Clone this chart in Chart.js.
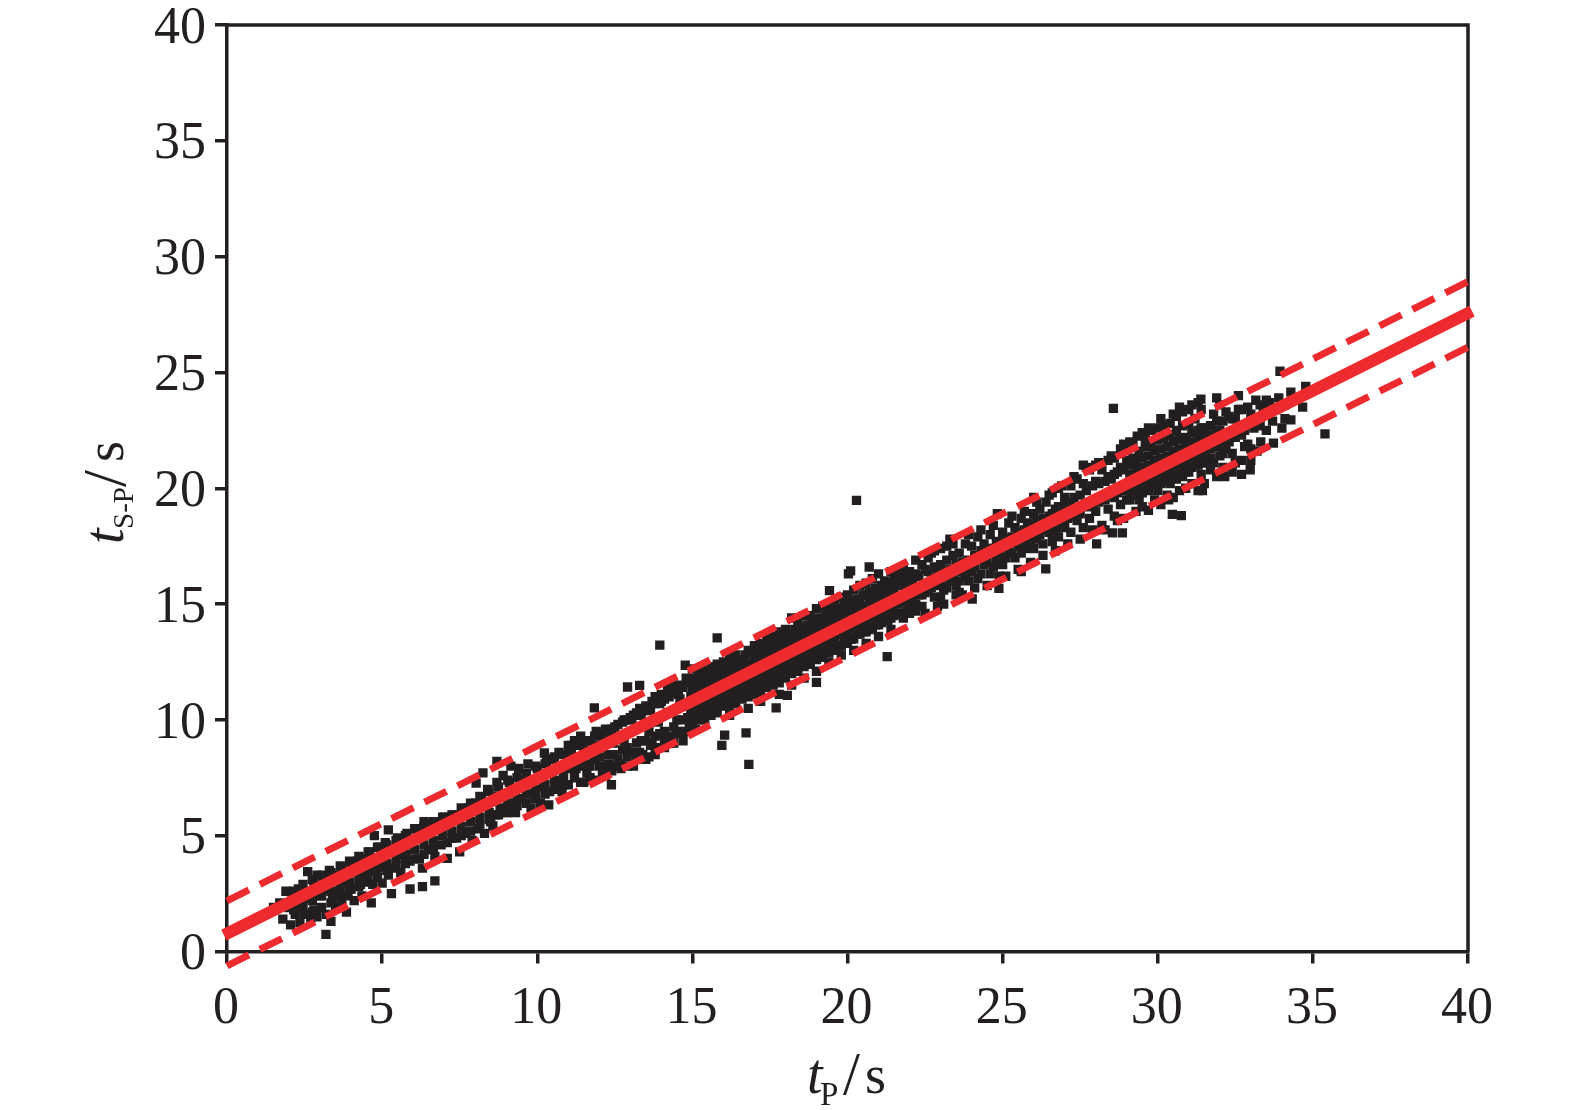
<!DOCTYPE html>
<html>
<head>
<meta charset="utf-8">
<script src="https://cdn.jsdelivr.net/npm/chart.js@4"></script>
<style>
html, body { margin: 0; padding: 0; background: #fff; }
canvas { display: block; }
</style>
</head>
<body>
<canvas id="chart" width="1575" height="1110"></canvas>
<script>
// tick labels
const tickValues = [0, 5, 10, 15, 20, 25, 30, 35, 40];

// fitted line and its two bounds, read at the plot edges
const fitX = [-0.1, 40.13];
const fitY = [0.71, 27.65];
const upperX = [0, 40];
const upperY = [2.19, 28.92];
const lowerX = [0, 40];
const lowerY = [-0.62, 26.09];

// [tP, tS-P] picks
const lowPoints = [
  [1.5,1.9],[1.7,2.1],[1.8,1.4],[1.9,2.6],[2.0,1.9],[2.05,1.15],[2.1,2.5],[2.2,1.6],[2.3,2.7],[2.35,1.25],
  [2.4,2.0],[2.5,1.6],[2.6,3.45],[2.6,2.3],[2.7,1.4],[2.8,2.9],[2.8,1.8],[2.9,3.3],[2.9,1.5],[3.0,2.4],
  [3.05,1.9],[3.1,3.2],[3.19,0.74],[3.2,1.6],[3.2,2.7],[3.35,1.3],[3.3,3.5],[3.4,2.2],[3.5,1.9],[3.5,3.3],[3.6,2.6],
  [3.7,3.6],[3.7,2.1],[3.85,1.7],[3.8,3.0],[3.9,2.4],[4.0,3.7],[4.0,2.7],[4.1,2.2],[4.2,3.9],[4.3,2.9],
  [4.35,2.4],[4.4,4.0],[4.5,3.3],[4.6,4.3],[4.65,2.1],[4.7,2.9],[4.75,5.0],[4.8,3.5],[4.9,4.5],[5.0,2.95],
  [5.0,3.7],[5.1,4.7],[5.2,5.25],[5.2,3.3],[5.3,2.5],[5.3,4.4],[5.4,3.6],[5.5,4.9],[5.6,3.4],[5.7,4.2],
  [5.8,5.1],[5.9,2.7],[5.9,3.9],[6.0,4.6],[6.1,5.3],[6.2,4.0],[6.3,2.8],[6.3,3.6],[6.35,5.6],[6.5,4.4],
  [6.6,5.5],[6.7,3.05],[6.7,4.1],[6.8,5.6],[6.9,4.6],[7.0,5.8],[7.1,4.02],[7.1,4.7],[7.2,5.4],[7.3,5.9],
  [7.4,4.9],[7.5,4.3],[7.6,5.9],[7.7,5.1],[7.8,6.2],[7.9,4.8],[8.0,6.4],[8.03,7.27],[8.1,5.3],[8.2,6.6],
  [8.25,7.71],[8.3,5.1],[8.4,7.0],[8.5,5.6],[8.57,5.42],[8.65,5.9],[8.7,8.21],[8.7,7.3],[8.8,6.2],[8.9,7.6],
  [9.0,6.0],[9.1,7.3],[9.15,8.0],[9.2,6.4],[9.3,6.0],[9.4,7.9],[9.5,6.6],[9.6,7.4],[9.7,8.1],[9.8,6.2],
  [9.9,6.8],[10.0,7.9],[10.1,6.4],[10.23,8.57],[10.2,7.1],[10.3,8.2],[10.37,6.33],[10.4,6.9],[10.5,8.3],[10.6,7.3],
  [10.7,8.6],[10.8,6.9],[10.9,8.0],[11.0,8.9]
];

const lowCorePoints = [
  [2.15,2.6],[2.15,1.8],[2.45,2.9],[2.45,1.9],[2.75,3.1],[2.75,2.2],[2.75,1.7],[3.05,3.3],[3.05,2.4],[3.35,3.4],
  [3.35,2.6],[3.35,2.1],[3.65,3.7],[3.65,2.8],[3.65,2.4],[3.95,3.9],[3.95,3.0],[3.95,2.7],[4.25,4.1],[4.25,3.2],
  [4.25,2.8],[4.55,4.3],[4.55,3.4],[4.55,3.0],[4.85,4.5],[4.85,3.6],[4.85,3.2],[5.15,4.6],[5.15,3.8],[5.15,3.5],
  [5.45,4.8],[5.45,4.0],[5.45,3.7],[5.75,5.0],[5.75,4.2],[5.75,3.8],[6.05,5.3],[6.05,4.4],[6.05,4.0],[6.35,5.4],
  [6.35,4.6],[6.35,4.2],[6.65,5.6],[6.65,4.8],[6.65,4.4],[6.95,5.8],[6.95,5.0],[7.25,5.9],[7.25,5.2],[7.25,4.9],
  [7.55,6.2],[7.55,5.4],[7.55,5.0],[7.85,6.4],[7.85,5.6],[7.85,5.2],[8.15,6.7],[8.15,5.8],[8.15,5.5],[8.45,6.9],
  [8.45,6.0],[8.45,5.7],[8.75,7.1],[8.75,6.7],[8.75,5.9],[9.05,7.4],[9.05,6.4],[9.05,6.0],[9.35,7.5],[9.35,6.6],
  [9.35,6.3],[9.65,7.7],[9.65,6.8],[9.65,6.4],[9.95,8.0],[9.95,7.0],[9.95,6.6],[10.25,8.1],[10.25,7.2],[10.25,6.8],
  [10.55,8.4],[10.55,7.4],[10.55,7.0],[10.85,8.5],[10.85,7.6],[10.85,7.2]
];

const midLeftPoints = [
  [11.0,7.2],[11.1,8.5],[11.2,7.5],[11.3,9.0],[11.4,7.3],[11.5,8.7],[11.6,7.7],[11.7,9.1],[11.84,10.52],[11.8,7.4],
  [11.9,8.9],[12.0,8.0],[12.1,9.3],[12.2,7.6],[12.3,8.5],[12.39,7.2],[12.4,9.6],[12.5,8.0],[12.6,9.8],[12.7,7.9],
  [12.8,9.1],[12.91,11.42],[12.9,8.4],[13.0,10.1],[13.1,8.0],[13.2,9.7],[13.3,11.49],[13.3,8.6],[13.4,10.4],[13.5,8.3],
  [13.6,9.5],[13.7,10.8],[13.8,8.5],[13.9,9.9],[13.95,13.23],[14.0,11.1],[14.1,8.8],[14.2,10.3],[14.3,11.3],[14.4,9.0],
  [14.5,10.0],[14.6,11.5],[14.7,9.1],[14.77,12.36],[14.8,10.6],[14.9,9.5],[15.0,11.8],[15.0,11.3],[15.0,10.2],[15.0,9.8],
  [15.2,12.0],[15.2,11.5],[15.2,10.4],[15.2,10.0],[15.4,12.1],[15.4,11.6],[15.4,10.5],[15.4,10.0],[15.6,12.3],[15.6,11.7],
  [15.6,10.7],[15.6,10.2],[15.8,13.54],[15.8,12.4],[15.8,11.9],[15.8,10.8],[15.8,10.3],[15.95,8.9],[16.04,9.34],[16.0,12.5],
  [16.0,12.0],[16.0,11.0],[16.0,10.6],[16.2,12.7],[16.2,12.1],[16.2,11.1],[16.2,10.6],[16.2,10.2],[16.4,12.8],[16.4,12.3],
  [16.4,11.2],[16.4,10.7],[16.6,12.6],[16.6,12.1],[16.6,11.3],[16.6,10.9],[16.73,9.44],[16.82,8.08],[16.8,13.0],[16.8,12.4],
  [16.8,11.5],[16.8,11.0],[16.8,10.5],[17.0,13.2],[17.0,12.6],[17.0,11.6],[17.0,11.1],[17.2,13.3],[17.2,12.9],[17.2,11.8],
  [17.2,11.2],[17.2,10.8],[17.4,13.5],[17.4,13.0],[17.4,11.9],[17.4,11.4],[17.6,13.6],[17.6,13.1],[17.6,12.1],[17.6,11.5],
  [17.7,10.52],[17.8,13.8],[17.8,13.3],[17.8,12.2],[17.8,11.6],[17.8,11.1],[18.06,11.06],[18.0,13.9],[18.0,13.4],[18.0,12.3],
  [18.0,11.8],[18.2,14.4],[18.2,13.6],[18.2,12.5],[18.2,12.0],[18.2,11.5],[18.4,14.2],[18.4,13.7],[18.4,12.6],[18.4,12.1],
  [18.6,14.5],[18.6,13.9],[18.6,12.8],[18.6,12.3],[18.6,11.8],[18.8,14.5],[18.8,14.0],[18.8,12.9],[18.8,12.4],[19.0,11.62],
  [19.0,14.8],[19.0,14.2],[19.0,13.1],[19.0,12.6],[19.0,12.1],[19.2,14.9],[19.2,14.3],[19.2,13.2],[19.2,12.7],[19.42,15.58],
  [19.4,15.0],[19.4,14.5],[19.4,13.4],[19.4,12.9],[19.4,12.5],[19.6,15.1],[19.6,14.6],[19.6,13.5],[19.6,13.0],[19.8,15.3],
  [19.8,14.8],[19.8,13.7],[19.8,13.2],[19.8,12.8],[20.03,16.3],[20.1,16.43],[20.0,15.4],[20.0,14.9],[20.0,13.8],[20.0,13.3],
  [20.12,13.49],[20.2,15.6],[20.2,15.0],[20.2,14.0],[20.2,13.5],[20.2,13.0],[20.29,19.48],[20.4,15.8],[20.4,15.2],[20.4,14.1],
  [20.4,13.7],[20.6,15.9],[20.6,15.4],[20.6,14.2],[20.6,13.8],[20.6,13.3],[20.7,16.6],[20.8,16.1],[20.8,15.5],[20.8,14.4],
  [20.8,14.0],[21.0,16.3],[21.0,15.6],[21.0,14.6],[21.0,14.1],[21.0,13.6],[21.28,12.73],[21.2,16.0],[21.2,15.4],[21.2,14.7],
  [21.2,14.3],[21.4,16.4],[21.4,15.8],[21.4,14.9],[21.4,14.4],[21.4,13.9],[21.6,16.3],[21.6,15.9],[21.6,15.0],[21.6,14.6],
  [21.8,16.6],[21.8,16.1],[21.8,15.1],[21.8,14.4],[22.0,16.4],[22.0,15.9],[22.0,14.9],[22.0,14.6]
];

const midCorePoints = [
  [11.1,8.9],[11.1,7.9],[11.25,8.9],[11.25,7.9],[11.4,9.0],[11.4,8.0],[11.55,9.1],[11.55,8.1],[11.7,8.6],[11.7,8.0],
  [11.85,9.3],[11.85,8.3],[12.0,9.4],[12.0,8.4],[12.15,9.4],[12.15,8.0],[12.3,9.5],[12.3,8.1],[12.45,9.0],[12.45,8.5],
  [12.6,9.3],[12.6,8.3],[12.75,9.9],[12.75,8.7],[12.9,10.0],[12.9,8.8],[13.05,10.0],[13.05,8.6],[13.2,10.3],[13.2,9.0],
  [13.35,10.2],[13.35,9.1],[13.5,10.5],[13.5,9.1],[13.65,10.4],[13.65,8.9],[13.8,10.7],[13.8,9.3],[13.95,10.7],[13.95,9.4],
  [14.1,10.9],[14.1,9.5],[14.25,11.0],[14.25,9.3],[14.4,11.2],[14.4,9.7],[14.55,11.1],[14.55,9.5],[14.7,11.4],[14.7,10.0],
  [14.85,11.6],[14.85,10.1],[14.95,11.0],[14.95,10.5],
  [15.1,11.65],[15.1,11.2],[15.1,10.55],[15.1,10.1],[15.3,11.8],[15.3,11.35],[15.3,10.7],[15.3,10.2],[15.5,11.9],[15.5,11.5],
  [15.5,10.8],[15.5,10.4],[15.7,12.1],[15.7,11.6],[15.7,11.0],[15.7,10.5],[15.9,12.2],[15.9,11.7],[15.9,11.1],[15.9,10.7],
  [16.1,12.3],[16.1,11.9],[16.1,11.2],[16.1,10.8],[16.3,12.5],[16.3,12.0],[16.3,11.4],[16.3,10.9],[16.5,12.6],[16.5,12.2],
  [16.5,11.5],[16.5,11.1],[16.7,12.8],[16.7,12.3],[16.7,11.7],[16.7,11.2],[16.9,12.9],[16.9,12.4],[16.9,11.8],[16.9,11.3],
  [17.1,13.0],[17.1,12.6],[17.1,11.9],[17.1,11.5],[17.3,13.2],[17.3,12.7],[17.3,12.1],[17.3,11.6],[17.5,13.3],[17.5,12.9],
  [17.5,12.2],[17.5,11.7],[17.7,13.4],[17.7,13.0],[17.7,12.3],[17.7,11.9],[17.9,13.6],[17.9,13.1],[17.9,12.5],[17.9,12.0],
  [18.1,13.7],[18.1,13.3],[18.1,12.6],[18.1,12.1],[18.3,13.9],[18.3,13.4],[18.3,12.8],[18.3,12.3],[18.5,14.0],[18.5,13.5],
  [18.5,12.9],[18.5,12.4],[18.7,14.1],[18.7,13.7],[18.7,13.0],[18.7,12.5],[18.9,14.3],[18.9,13.8],[18.9,13.2],[18.9,12.7],
  [19.1,14.4],[19.1,14.0],[19.1,13.3],[19.1,12.8],[19.3,14.6],[19.3,14.1],[19.3,13.4],[19.3,13.0],[19.5,14.7],[19.5,14.2],
  [19.5,13.6],[19.5,13.1],[19.7,14.8],[19.7,14.4],[19.7,13.7],[19.7,13.2],[19.9,15.0],[19.9,14.5],[19.9,13.9],[19.9,13.4],
  [20.1,15.1],[20.1,14.7],[20.1,14.0],[20.1,13.5],[20.3,15.2],[20.3,14.8],[20.3,14.1],[20.3,13.7],[20.5,15.4],[20.5,14.9],
  [20.5,14.3],[20.5,13.8],[20.7,15.5],[20.7,15.1],[20.7,14.4],[20.7,13.9],[20.9,15.7],[20.9,15.2],[20.9,14.5],[20.9,14.1],
  [21.1,15.8],[21.1,15.3],[21.1,14.7],[21.1,14.2],[21.3,15.9],[21.3,15.5],[21.3,14.8],[21.3,14.3],[21.5,16.1],[21.5,15.6],
  [21.5,15.0],[21.5,14.5],[21.7,16.2],[21.7,15.8],[21.7,15.1],[21.7,14.6],[21.9,16.3],[21.9,15.9],[21.9,15.2],[21.9,14.7]
];

const midRightPoints = [
  [22.2,16.9],[22.2,16.3],[22.2,15.0],[22.4,16.7],[22.4,15.4],[22.4,14.9],[22.6,17.0],[22.6,16.4],[22.6,15.6],[22.8,17.3],
  [22.8,16.6],[22.8,15.3],[23.0,17.4],[23.0,16.7],[23.0,15.9],[23.0,15.3],[23.2,17.5],[23.2,16.9],[23.2,15.7],[23.4,17.6],
  [23.4,17.1],[23.4,16.2],[23.6,17.2],[23.6,16.0],[23.6,15.5],[23.8,17.6],[23.8,16.2],[24.02,15.22],[24.0,17.5],[24.0,16.4],
  [24.2,17.9],[24.2,16.1],[24.4,17.6],[24.4,16.7],[24.6,18.0],[24.6,16.3],[24.83,18.9],[24.88,15.68],[24.8,17.7],[24.8,16.9],
  [25.0,18.1],[25.0,16.7],[25.2,18.5],[25.2,17.4],[25.4,18.3],[25.4,17.0],[25.6,18.7],[25.6,17.2],[25.6,16.4],[25.8,18.5],
  [25.8,17.6],[26.0,19.6],[26.0,18.9],[26.0,17.4],[26.2,19.1],[26.2,18.0],[26.39,16.52],[26.4,19.4],[26.4,18.2],[26.6,19.8],
  [26.6,18.9],[26.6,17.7],[26.8,20.0],[26.8,19.2],[26.8,17.9],[27.0,19.6],[27.0,18.3],[27.2,20.1],[27.2,19.3],[27.2,18.1],
  [27.4,20.4],[27.4,19.1],[27.4,18.6],[27.6,21.0],[27.6,20.2],[27.6,18.3],[27.8,20.8],[27.8,19.3],[27.8,18.7],[28.03,17.6],
  [28.0,21.0],[28.0,20.3],[28.0,19.0],[28.2,20.8],[28.2,19.6],[28.2,18.4],[28.4,21.2],[28.4,20.5],[28.4,19.1],[28.54,18.07],
  [28.57,23.45],[28.6,21.3],[28.6,20.6],[28.6,19.6],[28.6,18.8],[28.86,18.07],[28.8,21.7],[28.8,20.9],[28.8,19.3]
];

const rightCorePoints = [
  [22.1,16.0],[22.1,15.3],[22.3,16.2],[22.3,15.4],[22.5,16.5],[22.5,15.5],[22.7,16.0],[22.7,15.7],[22.9,16.3],[22.9,15.8],
  [23.1,16.4],[23.1,15.6],[23.3,16.5],[23.3,16.0],[23.5,16.7],[23.5,15.8],[23.7,16.8],[23.7,16.4],[23.9,16.9],[23.9,16.0],
  [24.1,17.1],[24.1,16.6],[24.3,17.3],[24.3,16.3],[24.5,17.4],[24.5,16.8],[24.7,17.4],[24.7,16.6],[24.9,17.6],[24.9,17.1],
  [25.1,17.8],[25.1,17.0],[25.3,17.9],[25.3,17.2],[25.5,18.1],[25.5,17.5],[25.7,18.2],[25.7,17.4],[25.9,18.4],[25.9,17.7],
  [26.1,18.6],[26.1,17.8],[26.3,18.7],[26.3,17.6],[26.5,18.8],[26.5,18.1],[26.7,19.1],[26.7,18.2],[26.9,19.2],[26.9,18.5],
  [27.1,19.4],[27.1,18.7],[27.3,19.6],[27.3,18.8],[27.5,19.7],[27.5,18.9],[27.7,19.9],[27.7,19.2],[27.9,20.1],[27.9,19.3],
  [28.1,20.2],[28.1,19.4],[28.3,20.3],[28.3,19.5],[28.5,20.4],[28.5,19.7],[28.7,20.7],[28.7,19.8],[28.9,20.8],[28.9,19.9]
];

const highPoints = [
  [29.0,21.7],[29.0,21.2],[29.0,20.1],[29.0,19.5],[29.2,21.9],[29.2,21.3],[29.2,20.3],[29.2,19.8],[29.34,22.25],[29.4,21.6],
  [29.4,20.5],[29.4,20.0],[29.4,19.5],[29.6,22.2],[29.6,21.8],[29.6,20.7],[29.7,19.05],[29.8,22.5],[29.8,21.9],[29.8,20.8],
  [29.8,20.2],[30.0,22.6],[30.0,22.1],[30.0,21.0],[30.0,20.4],[30.0,19.9],[30.2,22.7],[30.2,22.2],[30.2,21.2],[30.2,20.6],
  [30.35,19.5],[30.47,18.87],[30.76,18.82],[30.4,22.8],[30.4,22.3],[30.4,21.3],[30.4,20.8],[30.4,20.2],[30.6,23.1],[30.6,22.5],
  [30.6,21.5],[30.6,21.0],[30.6,20.4],[30.8,23.3],[30.8,22.7],[30.8,21.6],[30.8,21.1],[30.8,20.5],[31.0,23.4],[31.0,22.8],
  [31.0,21.8],[31.0,21.3],[31.0,20.7],[31.2,23.0],[31.2,22.4],[31.2,21.5],[31.2,21.0],[31.39,23.85],[31.44,19.9],[31.4,23.4],
  [31.4,22.6],[31.4,21.7],[31.4,21.1],[31.4,20.6],[31.6,22.3],[31.6,21.9],[31.6,21.3],[31.8,23.2],[31.8,22.0],[31.8,21.1],
  [32.0,23.6],[32.0,22.5],[32.0,21.4],[32.16,20.5],[32.2,23.3],[32.2,22.3],[32.2,21.7],[32.4,23.0],[32.4,21.5],[32.6,24.0],
  [32.6,23.4],[32.7,20.6],[32.8,22.5],[32.8,21.8],[32.98,20.8],[33.0,23.2],[33.0,21.2],[33.16,23.8],[33.2,23.0],[33.32,22.0],
  [33.4,23.4],[33.5,22.5],[33.6,23.7],[33.73,21.95],[33.8,23.4],[33.94,25.05],[34.0,22.6],[34.1,23.6],[34.29,24.15],[34.29,22.95],
  [34.67,23.5],[34.77,24.4],[35.39,22.35]
];

const highCorePoints = [
  [29.1,21.0],[29.1,20.6],[29.1,19.9],[29.1,19.5],[29.3,21.2],[29.3,20.8],[29.3,20.1],[29.3,19.7],[29.5,21.3],[29.5,20.9],
  [29.5,20.2],[29.5,19.8],[29.7,21.4],[29.7,21.0],[29.7,20.3],[29.7,19.9],[29.9,21.6],[29.9,21.2],[29.9,20.5],[29.9,20.1],
  [30.1,21.7],[30.1,21.3],[30.1,20.6],[30.1,20.2],[30.3,21.8],[30.3,21.4],[30.3,20.7],[30.3,20.3],[30.5,22.0],[30.5,21.6],
  [30.5,20.9],[30.5,20.5],[30.7,22.1],[30.7,21.7],[30.7,21.0],[30.7,20.6],[30.9,22.2],[30.9,21.8],[30.9,21.1],[30.9,20.7],
  [31.1,22.4],[31.1,22.0],[31.1,21.3],[31.1,20.9],[31.3,22.5],[31.3,22.1],[31.3,21.4],[31.3,21.0],[31.5,22.6],[31.5,22.2],
  [31.5,21.5],[31.5,21.1],[31.7,22.7],[31.7,21.7],[31.7,21.3],[31.9,22.9],[31.9,22.5],[31.9,21.8],[32.1,22.9],[32.1,21.9],
  [32.1,21.5],[32.3,23.1],[32.3,22.0],[32.5,23.0],[32.5,22.2],[32.7,23.4],[32.7,22.3],[32.9,23.5],[32.9,21.9],[33.1,22.6],
  [33.3,23.6],[33.3,22.7],[33.5,23.8],[33.7,22.9],[33.9,23.9],[34.1,23.0]
];

// stragglers along the outer edge of the cloud
const edgePoints = [
  [11.2,9.1],[11.4,9.3],[11.5,7.3],[11.7,7.5],[11.9,9.5],[12.1,7.7],[12.2,9.6],[12.4,7.8],[12.5,9.7],[12.7,8.1],
  [12.8,10.0],[12.9,8.0],[13.1,10.2],[13.2,8.3],[13.3,10.5],[13.4,8.5],[13.5,10.6],[13.6,8.4],[13.7,9.0],[13.8,11.0],
  [13.9,8.8],[14.0,10.8],[14.1,9.1],[14.2,11.4],[14.3,9.0],[14.4,11.5],[14.5,9.4],[14.6,10.9],[14.7,9.5],[14.8,11.8],
  [14.9,9.8],[15.0,12.2],[15.1,9.6],[15.3,12.3],
  [22.2,14.7],[22.5,14.6],[22.7,17.2],[22.9,14.9],[23.1,15.0],[23.3,17.8],[23.5,15.4],[23.7,15.4],[23.9,18.0],[24.1,15.7],
  [24.3,18.2],[24.5,15.8],[24.7,18.4],[24.9,16.2],[25.1,16.2],[25.3,18.8],[25.5,16.5],[25.7,19.0],[25.9,16.8],[26.1,19.4],
  [26.3,17.1],[26.5,19.7],[26.7,17.3],[26.9,20.1],[27.1,17.6],[27.3,20.5],[27.5,17.8],[27.7,20.9],[27.9,18.2],[28.1,21.1],
  [28.3,18.2],[28.5,21.4],[28.7,18.6],[28.9,21.9],[28.9,18.7],
  [29.1,22.0],[29.3,19.0],[29.5,22.4],[29.5,19.2],[29.7,22.6],[29.9,19.5],[30.1,23.0],[30.1,19.3],[30.3,19.7],[30.5,23.2],
  [30.5,19.6],[30.7,23.5],[30.7,19.9],[30.9,20.0],[31.1,23.6],[31.1,20.2],[31.3,23.7],[31.3,19.9],[31.5,20.2],[31.7,20.8],
  [31.9,23.9],[31.9,20.5],[32.1,20.9],[32.4,20.7],[32.5,21.1],[32.7,21.2],[33.0,21.7],[33.2,21.6]
];

const frameColor = '#231f20';
const redColor = '#ed2a2d';
const serif = '"Liberation Serif", "Times New Roman", serif';

function pairs(list) {
  return list.map(p => ({ x: p[0], y: p[1] }));
}

function linePoints(xs, ys) {
  return xs.map((x, i) => ({ x: x, y: ys[i] }));
}

// top and right sides of the box
const framePlugin = {
  id: 'frame',
  beforeDatasetsDraw(chart) {
    const a = chart.chartArea;
    const ctx = chart.ctx;
    ctx.save();
    ctx.strokeStyle = frameColor;
    ctx.lineWidth = 3.5;
    ctx.beginPath();
    ctx.moveTo(a.left, a.top);
    ctx.lineTo(a.right, a.top);
    ctx.lineTo(a.right, a.bottom);
    ctx.stroke();
    ctx.restore();
  }
};

// axis titles have subscripts, which the library's title option cannot do
function drawPiece(ctx, text, font, x, y) {
  ctx.font = font;
  ctx.fillText(text, x, y);
}

const titlePlugin = {
  id: 'titles',
  afterDraw(chart) {
    const ctx = chart.ctx;
    ctx.save();
    ctx.fillStyle = frameColor;
    ctx.textBaseline = 'alphabetic';
    ctx.textAlign = 'left';
    drawPiece(ctx, 't', 'italic 56px ' + serif, 807, 1093);
    drawPiece(ctx, 'P', '33px ' + serif, 820, 1105);
    drawPiece(ctx, '/', '61px ' + serif, 843, 1094);
    drawPiece(ctx, 's', '54px ' + serif, 865, 1093);
    ctx.translate(123, 0);
    ctx.rotate(-Math.PI / 2);
    drawPiece(ctx, 't', 'italic 56px ' + serif, -544, 0);
    drawPiece(ctx, 'S-P', '29px ' + serif, -529, 10);
    drawPiece(ctx, '/', '61px ' + serif, -487, 2);
    drawPiece(ctx, 's', '54px ' + serif, -462, 0);
    ctx.restore();
  }
};

function axisOptions(padding, labelOffset) {
  return {
    min: 0,
    max: 40,
    grid: { drawOnChartArea: false, color: frameColor, lineWidth: 3.5, tickLength: 12, tickColor: frameColor },
    border: { display: true, color: frameColor, width: 3.5 },
    afterBuildTicks: scale => { scale.ticks = tickValues.map(v => ({ value: v })); },
    ticks: {
      autoSkip: false,
      maxRotation: 0,
      color: frameColor,
      padding: padding,
      labelOffset: labelOffset,
      font: { family: serif, size: 52, lineHeight: 1 }
    }
  };
}

const xAxis = axisOptions(20, -1);
xAxis.afterFit = scale => { scale.height = 158.5; };
const yAxis = axisOptions(9, 4);
yAxis.afterFit = scale => {
  scale.width = 227;
  scale.paddingTop = 0;
  scale.paddingBottom = 0;
};

const allPoints = pairs(lowPoints.concat(lowCorePoints, midLeftPoints, midCorePoints, midRightPoints, rightCorePoints, highPoints, highCorePoints, edgePoints));

new Chart(document.getElementById('chart').getContext('2d'), {
  type: 'scatter',
  data: {
    datasets: [
      {
        label: 'fit',
        data: linePoints(fitX, fitY),
        showLine: true,
        pointRadius: 0,
        borderColor: redColor,
        borderWidth: 12,
        clip: false
      },
      {
        label: 'upper',
        data: linePoints(upperX, upperY),
        showLine: true,
        pointRadius: 0,
        borderColor: redColor,
        borderWidth: 7,
        borderDash: [24.5, 12.3],
        clip: false
      },
      {
        label: 'lower',
        data: linePoints(lowerX, lowerY),
        showLine: true,
        pointRadius: 0,
        borderColor: redColor,
        borderWidth: 7,
        borderDash: [24.5, 12.3],
        clip: false
      },
      {
        label: 'picks',
        data: allPoints,
        pointStyle: 'rect',
        pointRadius: 6.6,
        pointBorderWidth: 0,
        backgroundColor: frameColor,
        borderColor: frameColor
      }
    ]
  },
  options: {
    responsive: false,
    animation: false,
    devicePixelRatio: 1,
    layout: { padding: { top: 25, right: 107, left: 0, bottom: 0 } },
    plugins: { legend: { display: false }, tooltip: { enabled: false } },
    scales: { x: xAxis, y: yAxis }
  },
  plugins: [framePlugin, titlePlugin]
});
</script>
</body>
</html>
